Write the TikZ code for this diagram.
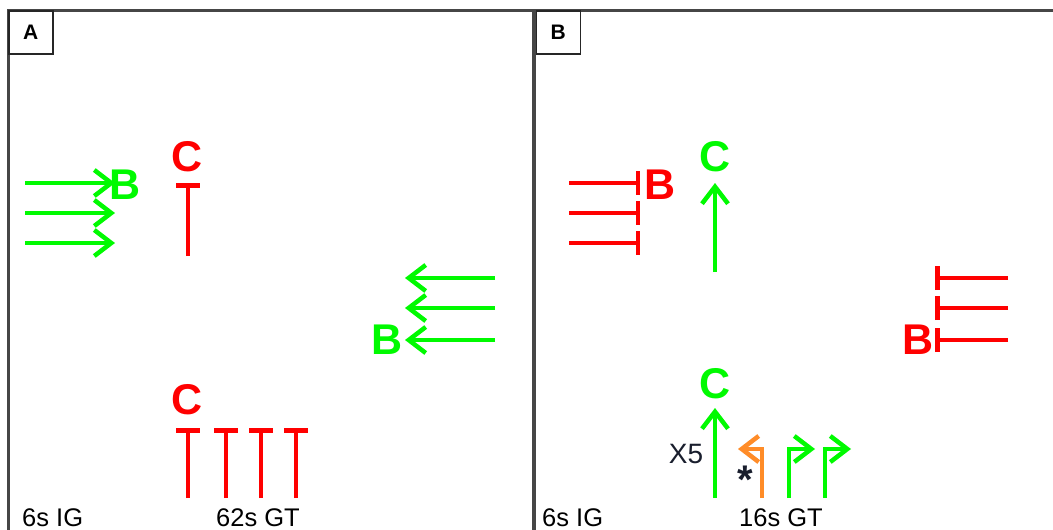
\documentclass[tikz,border=0pt]{standalone}
\usepackage{fontspec}
\setmainfont{Liberation Sans}
\usetikzlibrary{arrows.meta}
\definecolor{gA}{RGB}{0,250,0}
\definecolor{rA}{RGB}{255,0,0}
\definecolor{oA}{RGB}{255,140,40}
\definecolor{frameC}{RGB}{70,70,70}
\definecolor{inkC}{RGB}{25,30,45}
\begin{document}
\begin{tikzpicture}[x=1pt,y=-1pt,
  frameln/.style={draw=frameC,line width=3pt},
  lblbox/.style={draw=black!85,line width=1.5pt,fill=white,minimum width=44pt,minimum height=43pt,anchor=north west,inner sep=0pt,font=\fontsize{21}{21}\selectfont\bfseries},
  bigl/.style={inner sep=0pt,font=\fontsize{43}{43}\selectfont\bfseries},
  act/.style={line width=4.5pt,-{Straight Barb[length=17pt,width=26pt]}},
  inh/.style={line width=4.5pt,-{Bar[width=24pt]}},
  capt/.style={anchor=base west,inner sep=0pt,font=\fontsize{25.5}{25.5}\selectfont}]
\useasboundingbox (0,0) rectangle (1053,530);
\fill[white] (0,0) rectangle (1053,530);
% frame
\draw[frameln] (7,10) -- (1053,10);
\draw[frameln] (8.5,10) -- (8.5,530);
\draw[frameln,line width=4pt] (534,10) -- (534,530);
\node[lblbox] (labA) at (8,10) {A};
\node[lblbox] (labB) at (535.5,10) {B};

% ---------- Panel A ----------
\node[bigl,text=gA] (BA1) at (125,185) {B};
\node[bigl,text=rA] (CA1) at (187.5,157) {C};
\foreach \y [count=\i] in {183,213,243}{
  \coordinate (a1s\i) at (25,\y);
  \coordinate (a1e\i) at (115,\y);
  \draw[act,draw=gA] (a1s\i) -- (a1e\i);
}
\coordinate (ta0) at (188,256);
\coordinate (ta1) at (188,183);
\draw[inh,draw=rA] (ta0) -- (ta1);

\node[bigl,text=gA] (BA2) at (387,340) {B};
\foreach \y [count=\i] in {278,308,340}{
  \coordinate (a2s\i) at (495,\y);
  \coordinate (a2e\i) at (405,\y);
  \draw[act,draw=gA] (a2s\i) -- (a2e\i);
}

\node[bigl,text=rA] (CA2) at (187.5,400) {C};
\foreach \x [count=\i] in {188,226,261,296}{
  \coordinate (tb\i s) at (\x,498);
  \coordinate (tb\i e) at (\x,428);
  \draw[inh,draw=rA] (tb\i s) -- (tb\i e);
}
\node[capt] (capA1) at (22,526) {6s IG};
\node[capt] (capA2) at (216,526) {62s GT};

% ---------- Panel B ----------
\node[bigl,text=rA] (BB1) at (660,185) {B};
\node[bigl,text=gA] (CB1) at (715,157) {C};
\foreach \y [count=\i] in {183,213,243}{
  \coordinate (b1s\i) at (569,\y);
  \coordinate (b1e\i) at (640,\y);
  \draw[inh,draw=rA] (b1s\i) -- (b1e\i);
}
\coordinate (u1s) at (715,272);
\coordinate (u1e) at (715,183);
\draw[act,draw=gA] (u1s) -- (u1e);

\node[bigl,text=rA] (BB2) at (918,340) {B};
\foreach \y [count=\i] in {278,308,340}{
  \coordinate (b2s\i) at (1008,\y);
  \coordinate (b2e\i) at (935,\y);
  \draw[inh,draw=rA] (b2s\i) -- (b2e\i);
}

\node[bigl,text=gA] (CB2) at (715,384) {C};
\coordinate (u2s) at (715,498);
\coordinate (u2e) at (715,408);
\draw[act,draw=gA] (u2s) -- (u2e);

\coordinate (os) at (762,498);
\coordinate (oe) at (738,449);
\draw[act,draw=oA] (os) |- (oe);
\coordinate (g1s) at (789,498);
\coordinate (g1e) at (815,449);
\draw[act,draw=gA] (g1s) |- (g1e);
\coordinate (g2s) at (825,498);
\coordinate (g2e) at (851,449);
\draw[act,draw=gA] (g2s) |- (g2e);

\node[inner sep=0pt,text=inkC,font=\fontsize{28}{28}\selectfont] (x5) at (686,454) {X5};
\node[anchor=base,inner sep=0pt,text=inkC,font=\fontsize{40}{40}\selectfont\bfseries] (star) at (745,493) {*};

\node[capt] (capB1) at (542,526) {6s IG};
\node[capt] (capB2) at (739,526) {16s GT};
\end{tikzpicture}
\end{document}
